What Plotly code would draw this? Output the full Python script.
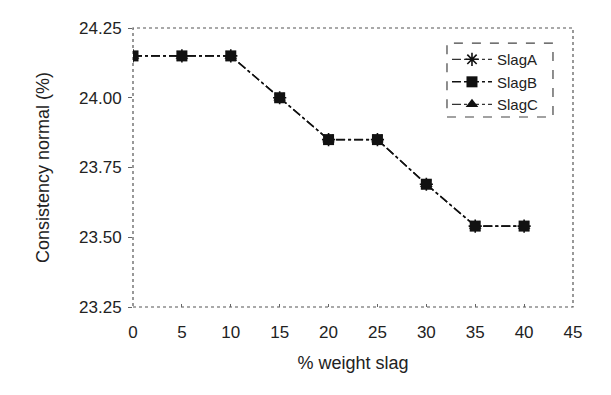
import plotly.graph_objects as go

x_vals = [0, 5, 10, 15, 20, 25, 30, 35, 40]
slag_a = [24.15, 24.15, 24.15, 24.00, 23.85, 23.85, 23.69, 23.54, 23.54]
slag_b = [24.15, 24.15, 24.15, 24.00, 23.85, 23.85, 23.69, 23.54, 23.54]
slag_c = [24.15, 24.15, 24.15, 24.00, 23.85, 23.85, 23.69, 23.54, 23.54]
x_ticks = [0, 5, 10, 15, 20, 25, 30, 35, 40, 45]
y_ticks = [23.25, 23.50, 23.75, 24.00, 24.25]

FONT = "Liberation Sans, Arial, sans-serif"

fig = go.Figure()
fig.add_trace(go.Scatter(x=x_vals, y=slag_a, name="SlagA", mode="lines+markers",
                         line=dict(color="#333", width=1.2, dash="dashdot"),
                         marker=dict(symbol="asterisk", size=11, color="#111",
                                     line=dict(color="#111", width=1.6)),
                         legendrank=1))
fig.add_trace(go.Scatter(x=x_vals, y=slag_c, name="SlagC", mode="lines+markers",
                         line=dict(color="#333", width=1.2, dash="dashdot"),
                         marker=dict(symbol="triangle-up", size=11, color="#111"),
                         legendrank=3))
fig.add_trace(go.Scatter(x=x_vals, y=slag_b, name="SlagB", mode="lines+markers",
                         line=dict(color="#111", width=1.6, dash="dashdot"),
                         marker=dict(symbol="square", size=11, color="#111"),
                         legendrank=2))

fig.update_layout(
    width=611, height=395,
    margin=dict(l=133, r=38, t=28, b=88),
    paper_bgcolor="white", plot_bgcolor="white",
    font=dict(family=FONT, size=16, color="#222"),
    showlegend=True,
    legend=dict(x=0.7136, y=0.946, xanchor="left", yanchor="top",
                bgcolor="rgba(0,0,0,0)", borderwidth=0,
                font=dict(size=15), itemwidth=40, tracegroupgap=0),
    xaxis=dict(range=[0, 45], tickvals=x_ticks, ticks="inside", ticklen=3,
               tickcolor="#666", showgrid=False, zeroline=False, showline=False,
               ticklabelstandoff=13, tickfont=dict(size=17),
               title=dict(text="% weight slag", font=dict(size=18), standoff=15),
               fixedrange=True),
    yaxis=dict(range=[23.25, 24.25], tickvals=y_ticks, tickformat=".2f",
               ticks="outside", ticklen=4, tickcolor="#666",
               showgrid=False, zeroline=False, showline=False,
               ticklabelstandoff=3, tickfont=dict(size=17),
               title=dict(text="Consistency normal (%)", font=dict(size=18), standoff=24),
               fixedrange=True),
    shapes=[
        dict(type="rect", xref="paper", yref="paper", x0=0, y0=0, x1=1, y1=1,
             line=dict(color="#555", width=1.2, dash="dot"), layer="below"),
        dict(type="rect", xref="paper", yref="paper", x0=0.7136, y0=0.681, x1=0.9545, y1=0.946,
             line=dict(color="#444", width=1.2, dash="dash"), fillcolor="white", layer="above"),
    ],
)

fig.write_html("out.html")
